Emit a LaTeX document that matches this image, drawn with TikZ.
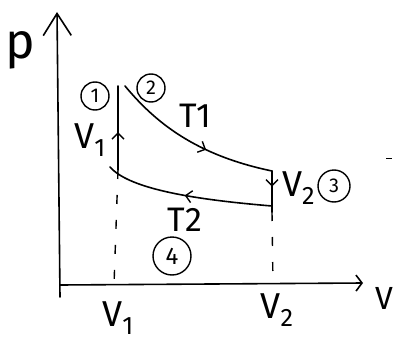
\documentclass[tikz,border=0pt]{standalone}
\usepackage{fontspec}
\setmainfont{Fira Sans}
\usetikzlibrary{arrows.meta,decorations.markings}
\tikzset{
  ink/.style={line width=1.6pt, line cap=round, line join=round},
  axisline/.style={ink},
  dashline/.style={line width=1.4pt, dash pattern=on 9pt off 16pt},
  lbl/.style={inner sep=0pt, font=\fontsize{36}{36}\selectfont},
  tlbl/.style={inner sep=0pt, font=\fontsize{34}{34}\selectfont},
  numc/.style={circle, draw, line width=1.4pt, minimum size=28pt, inner sep=0pt, font=\fontsize{20}{20}\selectfont},
  midarrow/.style={postaction={decorate}, decoration={markings, mark=at position #1 with {\arrow{Straight Barb[length=6pt,width=12pt,line width=1.4pt]}}}}
}
\begin{document}
\begin{tikzpicture}[x=1pt,y=-1pt]
\useasboundingbox (0,0) rectangle (399,340);
% axes
\coordinate (ybot) at (60,297);
\coordinate (ytop) at (57,12);
\coordinate (xleft) at (60,285);
\coordinate (xright) at (363,283);
\draw[axisline, -{Straight Barb[length=22pt,width=28pt,line width=1.6pt]}] (ybot) -- (ytop);
\draw[axisline, -{Straight Barb[length=6pt,width=16pt,line width=1.6pt]}] (xleft) -- (xright);
\node[lbl, font=\fontsize{50}{50}\selectfont] (p) at (20,50) {p};
\node[lbl, font=\fontsize{32}{32}\selectfont] (V) at (384,298) {V};
% state points
\coordinate (s1) at (118,86);
\coordinate (s1b) at (118,170);
\coordinate (s2) at (125,86);
\coordinate (s3) at (272,171);
\coordinate (s3b) at (272,212);
\coordinate (s3c) at (272,206);
\coordinate (s4) at (110,167);
\coordinate (v1axis) at (114,285);
\coordinate (v2axis) at (273,285);
% processes
\draw[ink, midarrow=0.45] (s1b) -- (s1);
\draw[ink, midarrow=0.6] (s2) .. controls (155,122) and (195,155) .. (s3);
\draw[ink, midarrow=0.38] (s3) -- (s3b);
\draw[ink, midarrow=0.52] (s3c) .. controls (200,200) and (130,190) .. (s4);
% dashed guide lines
\draw[dashline] (s1b) -- (v1axis);
\draw[dashline] (s3b) -- (v2axis);
% labels
\node[numc] (n1) at (95,96) {1};
\node[numc] (n2) at (151,88) {2};
\node[numc, minimum size=32pt] (n3) at (334,186) {3};
\node[numc, minimum size=38pt, font=\fontsize{24}{24}\selectfont] (n4) at (172,256) {4};
\node[lbl] (lv1) at (90,140) {V\textsubscript{1}};
\node[lbl, anchor=west] (lv2) at (282,188) {V\textsubscript{2}};
\node[tlbl] (t1) at (195,116) {T1};
\node[tlbl] (t2) at (185,220) {T2};
\node[lbl] (bv1) at (118,318) {V\textsubscript{1}};
\node[lbl] (bv2) at (277,310) {V\textsubscript{2}};
\coordinate (da) at (386,158);
\coordinate (db) at (392,158);
\draw[line width=1pt] (da) -- (db);
\end{tikzpicture}
\end{document}
